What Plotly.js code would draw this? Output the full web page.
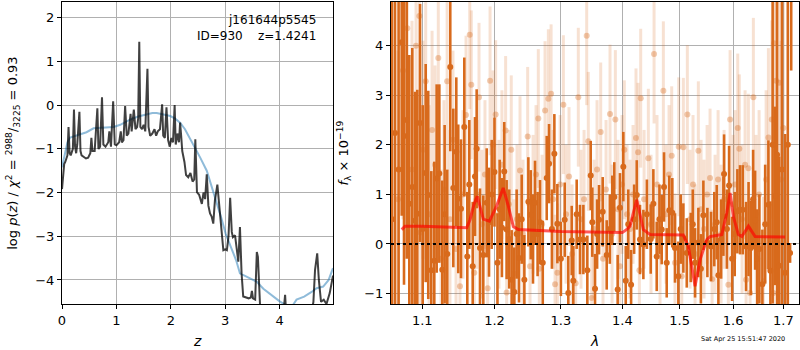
<!DOCTYPE html>
<html>
<head>
<meta charset="utf-8">
<script src="https://cdn.plot.ly/plotly-3.0.1.min.js"></script>
<style>html,body{margin:0;padding:0;background:#fff}#chart{width:800px;height:350px}</style>
</head>
<body>
<div id="chart"></div>
<script>
// ---- Left panel: log p(z) ----
const pz_z = [0.00,0.02,0.04,0.06,0.08,0.10,0.12,0.14,0.16,0.18,0.20,0.22,0.24,0.26,0.28,0.32,0.34,0.36,0.40,0.44,0.48,0.52,0.54,0.56,0.60,0.65,0.67,0.70,0.735,0.76,0.80,0.85,0.87,0.90,0.94,0.97,1.00,1.05,1.08,1.10,1.13,1.16,1.19,1.22,1.26,1.28,1.32,1.35,1.38,1.40,1.42,1.44,1.47,1.50,1.53,1.57,1.59,1.62,1.66,1.70,1.73,1.76,1.80,1.84,1.86,1.89,1.92,1.95,1.98,2.01,2.04,2.07,2.09,2.12,2.15,2.17,2.19,2.21,2.25,2.28,2.32,2.36,2.40,2.43,2.45,2.48,2.52,2.57,2.60,2.63,2.66,2.69,2.72,2.75,2.78,2.81,2.855,2.89,2.93,2.965,3.00,3.03,3.06,3.09,3.12,3.14,3.18,3.21,3.24,3.27,3.30,3.33,3.38,3.43,3.47,3.49,3.51,3.55,3.58,3.60,3.64,3.70,4.05,4.10,4.13,4.55,4.62,4.65,4.69,4.72,4.76,4.81,4.86,4.92,4.98];
const pz_logp = [-1.92,-1.55,-1.35,-1.30,-1.20,-1.15,-0.50,-1.10,-1.15,-1.05,-1.00,-0.10,-0.95,-1.10,-0.90,-0.15,-1.05,-1.15,-1.18,-1.22,-1.20,-1.10,-0.75,-1.05,-1.05,-0.07,-1.00,-0.95,0.18,-0.90,-0.95,-0.85,-0.60,-0.95,0.09,-0.90,-0.92,-0.85,-0.60,-0.85,-0.80,-0.02,-0.70,-0.65,-0.20,-0.60,-0.10,-0.55,-0.50,-0.30,1.45,-0.50,-0.55,-0.45,-0.60,0.83,-0.50,-0.70,-0.65,-0.55,-0.70,-0.60,-0.55,0.02,-0.70,-0.75,-0.05,-0.80,-0.95,-0.75,-0.85,0.00,-0.90,-0.65,-0.85,-0.40,-0.70,-1.05,-1.30,-1.60,-1.65,-1.55,-1.75,-1.70,-0.78,-1.99,-2.05,-2.26,-2.00,-2.15,-1.58,-2.30,-2.48,-2.55,-2.71,-2.18,-1.82,-2.30,-2.90,-3.32,-3.30,-3.32,-3.00,-2.12,-2.90,-3.02,-2.98,-3.30,-3.58,-2.79,-3.85,-4.38,-4.40,-4.42,-4.40,-4.25,-4.42,-4.45,-3.36,-3.47,-4.60,-5.00,-5.00,-4.34,-5.00,-5.00,-4.50,-3.77,-3.39,-4.00,-4.50,-4.45,-4.55,-4.30,-3.90];

const smooth_z = [0.00,0.05,0.10,0.15,0.25,0.33,0.45,0.58,0.70,0.82,0.95,1.07,1.25,1.40,1.56,1.66,1.74,1.85,1.99,2.08,2.17,2.26,2.35,2.45,2.54,2.66,2.75,2.84,2.92,3.01,3.10,3.20,3.27,3.33,3.45,3.58,3.70,3.85,4.00,4.12,4.22,4.31,4.45,4.58,4.68,4.80,4.90,4.98];
const smooth_logp = [-1.42,-1.10,-0.85,-0.74,-0.70,-0.67,-0.62,-0.53,-0.52,-0.52,-0.50,-0.45,-0.33,-0.26,-0.20,-0.18,-0.18,-0.21,-0.25,-0.31,-0.40,-0.55,-0.75,-0.97,-1.20,-1.50,-1.85,-2.22,-2.55,-2.95,-3.25,-3.55,-3.85,-3.89,-3.96,-4.04,-4.20,-4.35,-4.49,-4.58,-4.62,-4.45,-4.38,-4.28,-4.19,-4.15,-4.00,-3.73];

// ---- Right panel: spectrum ----
const dark_wave = [1.0605,1.0644,1.0690,1.0730,1.0760,1.0795,1.0829,1.0868,1.0904,1.0934,1.0970,1.1005,1.1045,1.1079,1.1120,1.1160,1.1192,1.1228,1.1268,1.1300,1.1336,1.1377,1.1419,1.1460,1.1487,1.1525,1.1571,1.1613,1.1641,1.1689,1.1721,1.1745,1.1792,1.1839,1.1888,1.1921,1.1960,1.2000,1.2043,1.2075,1.2108,1.2142,1.2177,1.2215,1.2251,1.2290,1.2325,1.2360,1.2400,1.2440,1.2500,1.2536,1.2570,1.2601,1.2640,1.2677,1.2719,1.2780,1.2816,1.2860,1.2898,1.2945,1.3000,1.3060,1.3117,1.3171,1.3196,1.3250,1.3303,1.3357,1.3421,1.3476,1.3502,1.3546,1.3580,1.3612,1.3672,1.3738,1.3790,1.3831,1.3864,1.3921,1.3960,1.4016,1.4057,1.4100,1.4148,1.4200,1.4245,1.4301,1.4359,1.4420,1.4487,1.4533,1.4592,1.4640,1.4680,1.4721,1.4769,1.4815,1.4869,1.4917,1.4977,1.5020,1.5068,1.5130,1.5203,1.5240,1.5282,1.5343,1.5390,1.5436,1.5511,1.5580,1.5640,1.5687,1.5718,1.5770,1.5813,1.5826,1.5880,1.5922,1.5980,1.6030,1.6082,1.6134,1.6187,1.6252,1.6300,1.6344,1.6390,1.6429,1.6470,1.6514,1.6574,1.6630,1.6695,1.6735,1.6780,1.6830,1.6870,1.6912,1.6970,1.7035,1.7090,1.7137,1.7160];
const dark_flux = [0.5,2.24,1.5,4.07,2.18,2.5,0.81,1.15,0.47,0.61,2.44,0.3,1.43,0.99,-0.53,-0.34,1.32,1.42,-0.52,0.6,-0.2,3.57,1.13,1.86,0.91,0.71,2.36,-0.25,1.2,-0.45,1.36,1.92,-0.08,-0.22,0.83,0.44,1.0,1.45,-0.38,0.7,0.33,1.46,0.29,0.1,-0.72,-0.97,0.2,-0.28,0.5,-0.72,0.85,0.59,0.1,0.83,0.2,0.44,-0.38,1.33,1.62,0.3,1.82,0.41,-0.3,0.49,-0.99,0.07,-0.74,0.6,0.09,0.09,-0.53,1.38,0.44,-0.9,0.2,0.49,0.65,-0.22,0.3,0.68,0.95,-0.92,0.73,1.56,-0.74,0.4,-0.82,0.5,0.99,0.09,-0.01,0.6,0.1,0.81,-0.25,0.5,0.29,1.15,-0.38,0.68,0.63,-0.08,-0.65,0.3,0.12,-0.18,-0.07,0.4,-0.38,0.03,-0.5,0.58,0.03,-0.05,0.3,0.44,-0.63,0.1,0.56,1.41,0.3,1.18,-0.3,0.2,0.66,0.69,0.69,-0.05,0.3,-0.08,0.9,0.48,-0.3,-0.1,-0.81,0.4,0.79,-0.54,2.0,0.97,1.8,-0.44,1.5,-0.58,2.0,-0.18,6.5];
const dark_err = [5.0,4.0,4.0,3.5,3.0,2.8,3.0,2.8,2.6,2.5,2.4,2.5,2.2,2.1,2.0,2.0,1.9,1.8,1.8,1.8,1.7,1.7,1.6,1.5,1.5,1.4,1.4,1.3,1.3,1.3,1.2,1.2,1.2,1.2,1.1,1.1,1.1,1.1,1.0,1.0,1.0,1.0,1.0,1.0,1.0,0.9,0.9,0.9,0.9,0.9,0.9,0.9,0.9,0.85,0.85,0.85,0.85,0.85,0.8,0.8,0.8,0.8,0.75,0.75,0.75,0.7,0.7,0.7,0.7,0.7,0.7,0.7,0.7,0.7,0.7,0.7,0.7,0.7,0.7,0.7,0.7,0.7,0.7,0.7,0.7,0.7,0.7,0.7,0.7,0.7,0.7,0.7,0.7,0.7,0.7,0.7,0.7,0.7,0.7,0.7,0.7,0.7,0.7,0.7,0.7,0.7,0.7,0.7,0.7,0.7,0.7,0.7,0.7,0.7,0.75,0.75,0.75,0.8,0.8,0.8,0.8,0.8,0.85,0.85,0.85,0.9,0.9,0.9,0.95,0.95,1.0,1.0,1.0,1.1,1.1,1.2,1.3,1.4,3.2,1.8,3.5,2.2,4.0,2.8,5.0,0.2,3.0];

const light_wave = [1.0682,1.0747,1.0803,1.0864,1.0917,1.0961,1.0977,1.1009,1.1045,1.1090,1.1130,1.1170,1.1214,1.1251,1.1291,1.1334,1.1373,1.1414,1.1456,1.1511,1.1553,1.1595,1.1647,1.1669,1.1711,1.1749,1.1778,1.1820,1.1863,1.1902,1.1936,1.1979,1.2017,1.2065,1.2108,1.2162,1.2177,1.2211,1.2245,1.2285,1.2330,1.2375,1.2420,1.2490,1.2525,1.2571,1.2616,1.2651,1.2666,1.2708,1.2754,1.2805,1.2847,1.2878,1.2909,1.2945,1.2988,1.3039,1.3081,1.3128,1.3176,1.3234,1.3276,1.3319,1.3368,1.3411,1.3437,1.3492,1.3530,1.3579,1.3639,1.3677,1.3727,1.3793,1.3827,1.3882,1.3927,1.3960,1.3994,1.4033,1.4079,1.4130,1.4181,1.4232,1.4267,1.4290,1.4313,1.4371,1.4445,1.4492,1.4545,1.4597,1.4650,1.4709,1.4757,1.4810,1.4858,1.4917,1.4984,1.5039,1.5068,1.5141,1.5190,1.5245,1.5282,1.5343,1.5393,1.5448,1.5505,1.5561,1.5599,1.5655,1.5712,1.5769,1.5826,1.5908,1.5941,1.5999,1.6037,1.6089,1.6120,1.6173,1.6232,1.6252,1.6297,1.6330,1.6395,1.6448,1.6508,1.6594,1.6649,1.6695,1.6763,1.6796,1.6810,1.6850,1.6912,1.6952,1.6998];
const light_flux = [0.9,3.5,4.35,1.5,4.0,4.6,0.23,1.9,3.28,0.6,2.3,1.6,3.75,-0.3,1.1,3.28,0.5,2.1,-0.1,-0.85,1.0,2.6,4.22,3.21,-0.58,1.0,2.96,0.4,1.4,-0.89,3.29,2.0,2.61,0.6,1.6,2.29,-0.98,0.8,1.9,-0.6,0.5,1.48,0.2,2.17,-0.45,0.8,1.4,2.53,-0.5,0.4,2.69,2.93,3.03,0.9,-0.81,-0.58,1.2,2.81,0.6,1.36,-0.2,-0.79,2.96,0.5,0.9,4.2,2.07,-1.09,0.3,1.5,2.26,-0.3,1.1,2.62,0.2,2.51,0.7,-0.45,1.2,1.9,0.6,0.3,1.0,2.14,1.85,-0.53,2.94,0.9,1.73,0.4,3.83,1.2,-0.25,3.09,0.6,1.4,1.78,-0.38,1.96,-0.65,1.95,2.61,0.5,1.2,-0.2,1.88,0.7,0.3,1.0,1.33,-0.71,0.4,1.3,0.2,0.9,-0.82,2.51,0.8,1.2,2.34,1.92,0.5,1.6,-0.72,1.53,-0.99,2.96,0.6,1.0,-0.75,1.3,2.15,2.51,-0.99,4.05,3.29,3.25,1.3,2.34];
const light_err = [3.0,3.0,3.0,3.0,2.4,2.2,2.2,2.2,2.2,2.2,2.0,2.0,1.8,1.8,1.8,1.8,1.8,1.8,1.8,1.7,1.7,1.6,1.5,1.5,1.5,1.5,1.5,1.5,1.5,1.5,1.5,1.5,1.5,1.5,1.5,1.5,1.5,1.5,1.5,1.5,1.5,1.5,1.5,1.4,1.4,1.4,1.4,1.4,1.4,1.4,1.4,1.4,1.4,1.4,1.4,1.4,1.4,1.4,1.4,1.4,1.4,1.4,1.4,1.4,1.4,1.4,1.4,1.4,1.4,1.4,1.4,1.4,1.4,1.4,1.4,1.4,1.4,1.4,1.4,1.4,1.4,1.4,1.4,1.4,1.4,1.4,1.4,1.4,1.4,1.4,1.4,1.4,1.4,1.4,1.4,1.4,1.4,1.4,1.4,1.4,1.4,1.4,1.4,1.4,1.4,1.4,1.4,1.4,1.4,1.4,1.4,1.4,1.4,1.4,1.4,1.4,1.4,1.4,1.5,1.5,1.5,1.5,1.5,1.5,1.5,1.5,1.6,1.6,1.7,1.7,1.8,1.8,2.0,2.0,2.2,2.4,2.6,2.8,3.0];

const model_wave = [1.0730,1.0773,1.1000,1.1300,1.1605,1.1651,1.1707,1.1754,1.1800,1.1839,1.1926,1.2031,1.2127,1.2201,1.2275,1.2350,1.3000,1.3500,1.4000,1.4080,1.4130,1.4180,1.4244,1.4300,1.4359,1.4475,1.5068,1.5160,1.5282,1.5374,1.5499,1.5561,1.5782,1.5878,1.5941,1.6005,1.6102,1.6169,1.6297,1.6429,1.7000,1.7035];
const model_flux = [0.29,0.36,0.36,0.35,0.33,0.49,0.80,0.96,0.72,0.50,0.46,0.77,1.13,0.77,0.35,0.29,0.25,0.24,0.23,0.30,0.36,0.60,0.89,0.60,0.29,0.19,0.18,-0.05,-0.85,-0.32,0.09,0.15,0.19,0.63,1.03,0.55,0.19,0.15,0.36,0.15,0.14,0.14];

const x1_ticks = [0,1,2,3,4];
const y1_ticks = [-4,-3,-2,-1,0,1,2];
const x2_tickvals = [1.1,1.2,1.3,1.4,1.5,1.6,1.7];
const x2_ticktext = ['1.1','1.2','1.3','1.4','1.5','1.6','1.7'];
const y2_ticks = [-1,0,1,2,3,4];

const ORANGE = 'rgb(216,106,28)';
const traces = [
  {x: smooth_z, y: smooth_logp, xaxis:'x', yaxis:'y', mode:'lines', line:{color:'rgba(31,119,180,0.5)', width:2}, hoverinfo:'skip'},
  {x: pz_z, y: pz_logp, xaxis:'x', yaxis:'y', mode:'lines', line:{color:'rgba(0,0,0,0.75)', width:2}, hoverinfo:'skip'},
  {x: light_wave, y: light_flux, xaxis:'x2', yaxis:'y2', mode:'markers', marker:{color:'rgba(216,106,28,0.35)', size:6},
   error_y:{type:'data', array: light_err, visible:true, thickness:3, width:0, color:'rgba(216,106,28,0.2)'}},
  {x: dark_wave, y: dark_flux, xaxis:'x2', yaxis:'y2', mode:'markers', marker:{color:ORANGE, size:6},
   error_y:{type:'data', array: dark_err, visible:true, thickness:2.6, width:0, color:ORANGE}},
  {x: model_wave, y: model_flux, xaxis:'x2', yaxis:'y2', mode:'lines', line:{color:'rgba(255,0,0,0.65)', width:3}}
];

const axisCommon = {showline:true, mirror:true, linecolor:'black', linewidth:1, ticks:'outside', ticklen:4, tickcolor:'black',
  showgrid:true, gridcolor:'#b0b0b0', gridwidth:1, zeroline:false, tickfont:{family:'DejaVu Sans', size:13, color:'black'}};

const layout = {
  width:800, height:350, margin:{l:0,r:0,t:0,b:0}, showlegend:false, paper_bgcolor:'white', plot_bgcolor:'white',
  font:{family:'DejaVu Sans', color:'black'},
  xaxis: Object.assign({}, axisCommon, {domain:[0.0775,0.41625], range:[0,4.98], tickvals:x1_ticks, anchor:'y'}),
  yaxis: Object.assign({}, axisCommon, {domain:[0.13143,0.99429], range:[-4.55,2.36], tickvals:y1_ticks, anchor:'x'}),
  xaxis2: Object.assign({}, axisCommon, {domain:[0.48875,0.99875], type:'log', range:[0.0250,0.2386], tickvals:x2_tickvals, ticktext:x2_ticktext, anchor:'y2'}),
  yaxis2: Object.assign({}, axisCommon, {domain:[0.13143,0.99429], range:[-1.21,4.88], tickvals:y2_ticks, anchor:'x2'}),
  shapes:[{type:'line', xref:'x2 domain', yref:'y2', x0:0, x1:1, y0:0, y1:0, line:{color:'black', width:2, dash:'dot'}}],
  annotations:[
    {text:'j161644p5545<br>ID=930    z=1.4241', xref:'paper', yref:'paper', x:0.3975, y:0.97, xanchor:'right', yanchor:'top', align:'right', showarrow:false, font:{size:12}},
    {text:'log <i>p</i>(<i>z</i>) / <i>χ</i><sup>2</sup> = <sup>2988</sup>/<sub>3225</sub> = 0.93', xref:'paper', yref:'paper', x:0.016, y:0.563, textangle:-90, xanchor:'center', yanchor:'middle', showarrow:false, font:{size:13}},
    {text:'<i>f</i><sub>λ</sub> × 10<sup>−19</sup>', xref:'paper', yref:'paper', x:0.4295, y:0.563, textangle:-90, xanchor:'center', yanchor:'middle', showarrow:false, font:{size:13}},
    {text:'<i>z</i>', xref:'paper', yref:'paper', x:0.24625, y:0.026, xanchor:'center', yanchor:'middle', showarrow:false, font:{size:14}},
    {text:'<i>λ</i>', xref:'paper', yref:'paper', x:0.7425, y:0.026, xanchor:'center', yanchor:'middle', showarrow:false, font:{size:14}},
    {text:'Sat Apr 25 15:51:47 2020', xref:'paper', yref:'paper', x:0.92875, y:0.031, xanchor:'center', yanchor:'middle', showarrow:false, font:{size:6.5}}
  ]
};

Plotly.newPlot('chart', traces, layout, {staticPlot:true, displayModeBar:false});
</script>
</body>
</html>
